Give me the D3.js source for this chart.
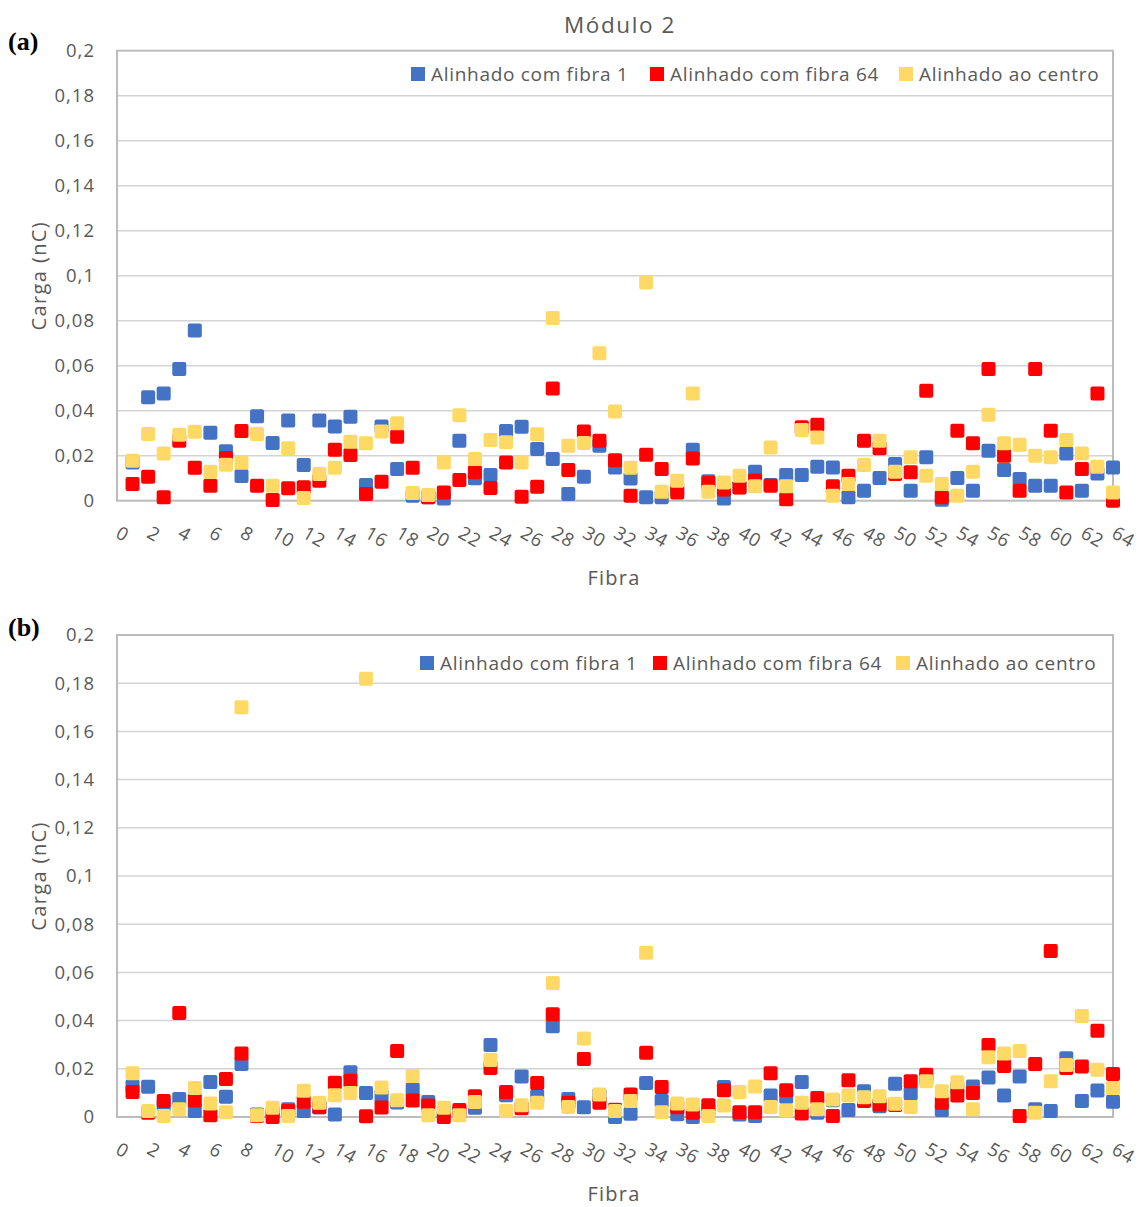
<!DOCTYPE html>
<html>
<head>
<meta charset="utf-8">
<script src="https://cdn.jsdelivr.net/npm/d3@7"></script>
<style>
  html, body { margin: 0; padding: 0; background: #ffffff; }
  svg { display: block; }
  text { font-family: "Open Sans", "Noto Sans", sans-serif; }
</style>
</head>
<body>
<svg id="chart" width="1140" height="1207"></svg>
<script>
// ---------------- DATA ----------------
const fibras = [1,2,3,4,5,6,7,8,9,10,11,12,13,14,15,16,17,18,19,20,21,22,23,24,25,26,27,28,29,30,31,32,
                33,34,35,36,37,38,39,40,41,42,43,44,45,46,47,48,49,50,51,52,53,54,55,56,57,58,59,60,61,62,63,64];

const seriesNames = ["Alinhado com fibra 1", "Alinhado com fibra 64", "Alinhado ao centro"];
const seriesColors = ["#4472C4", "#FF0000", "#FFD966"];

const xTickValues = [0,2,4,6,8,10,12,14,16,18,20,22,24,26,28,30,32,34,36,38,40,42,44,46,48,50,52,54,56,58,60,62,64];
const yTickValues = [0,0.02,0.04,0.06,0.08,0.1,0.12,0.14,0.16,0.18,0.2];

const titleText = "Módulo 2";
const xTitle = "Fibra";
const yTitle = "Carga (nC)";
const panelLabels = ["(a)", "(b)"];

// Panel (a)
const aFibra1 = [0.017,0.046,0.0477,0.0585,0.0756,0.0302,0.022,0.011,0.0375,0.0256,0.0357,0.0159,0.0357,0.033,0.0373,0.007,
                 0.033,0.0141,0.0022,0.0015,0.001,0.0267,0.010,0.0114,0.031,0.0329,0.023,0.0185,0.003,0.0107,0.0244,0.0148,
                 0.0099,0.0015,0.0015,0.005,0.0227,0.0087,0.001,0.006,0.0129,0.007,0.0114,0.0114,0.0151,0.0148,0.0015,0.0044,
                 0.0101,0.0163,0.0044,0.0193,0.0004,0.0101,0.0044,0.0222,0.0136,0.0096,0.0067,0.0067,0.021,0.0044,0.0121,0.0148];
const aFibra64 = [0.0074,0.0107,0.0015,0.0267,0.0147,0.0067,0.019,0.031,0.0067,0.0003,0.0055,0.006,0.0089,0.0227,0.0203,0.003,
                  0.0084,0.0284,0.0147,0.0015,0.0037,0.0092,0.0126,0.0056,0.017,0.0018,0.0062,0.0499,0.0136,0.0308,0.0267,0.018,
                  0.0022,0.0204,0.0141,0.0037,0.0188,0.0079,0.005,0.0059,0.009,0.0067,0.0007,0.0326,0.0338,0.0064,0.0111,0.0267,
                  0.0233,0.0119,0.0126,0.0489,0.0015,0.0311,0.0255,0.0585,0.020,0.0044,0.0585,0.0311,0.0037,0.0141,0.0477,0.0];
const aCentro = [0.0178,0.0296,0.021,0.0293,0.0307,0.0129,0.016,0.0169,0.0296,0.0067,0.0233,0.0012,0.0119,0.0147,0.0262,0.0255,
                 0.0308,0.0344,0.0034,0.0025,0.017,0.038,0.0185,0.027,0.026,0.017,0.0295,0.0812,0.0244,0.0256,0.0655,0.0397,
                 0.0147,0.097,0.004,0.0089,0.0477,0.004,0.0081,0.0111,0.0064,0.0237,0.0064,0.0314,0.0281,0.0022,0.0074,0.0159,
                 0.0267,0.0129,0.0193,0.0111,0.0074,0.0022,0.0129,0.0382,0.0255,0.0249,0.020,0.0193,0.027,0.021,0.0151,0.0037];

// Panel (b)
const bFibra1 = [0.0127,0.0126,0.005,0.0075,0.0025,0.0145,0.0084,0.022,0.001,0.0018,0.0032,0.0025,0.004,0.001,0.0186,0.01,
                 0.0086,0.006,0.0114,0.0062,0.002,0.002,0.0038,0.0299,0.009,0.0168,0.0086,0.0377,0.0075,0.004,0.009,0.0,
                 0.0014,0.0141,0.0066,0.0011,0.0,0.003,0.0124,0.001,0.0004,0.0089,0.0084,0.0145,0.0018,0.007,0.0029,0.0107,
                 0.0045,0.0138,0.0097,0.016,0.0029,0.012,0.0127,0.0164,0.0089,0.0168,0.0032,0.0025,0.0244,0.0066,0.011,0.0063];
const bFibra64 = [0.0104,0.0018,0.0066,0.0432,0.0068,0.0007,0.0158,0.0264,0.0004,0.0,0.0025,0.0063,0.004,0.0142,0.015,0.0003,
                  0.0039,0.0274,0.0068,0.0048,0.0,0.0029,0.0086,0.0203,0.0104,0.0036,0.0141,0.0426,0.0059,0.0241,0.0059,0.003,
                  0.0093,0.0267,0.0125,0.004,0.0018,0.0049,0.0111,0.002,0.002,0.0182,0.0111,0.0015,0.0079,0.0004,0.0152,0.0066,
                  0.0052,0.005,0.0148,0.0175,0.0059,0.0089,0.01,0.0299,0.0212,0.0004,0.022,0.0689,0.0203,0.021,0.0358,0.0178];
const bCentro = [0.0182,0.0025,0.0004,0.0032,0.012,0.0056,0.002,0.170,0.0007,0.0038,0.0004,0.0109,0.0059,0.009,0.01,0.1818,
                 0.0122,0.0069,0.017,0.0007,0.0038,0.0007,0.0062,0.0237,0.0025,0.0049,0.0059,0.0556,0.0041,0.0326,0.0093,0.0025,
                 0.0066,0.0682,0.002,0.0056,0.0052,0.0004,0.0048,0.0104,0.0127,0.0041,0.0027,0.0059,0.0032,0.0073,0.0089,0.0082,
                 0.0086,0.0055,0.0041,0.0148,0.0107,0.0144,0.0032,0.0248,0.0264,0.0274,0.0018,0.0148,0.0216,0.0419,0.0196,0.012];

// ---------------- LAYOUT ----------------
const svg = d3.select("#chart");
const textColor = "#595959";
const fmt = v => String(+v.toFixed(2)).replace(".", ",");

const panels = [
  { label: panelLabels[0], series: [aFibra1, aFibra64, aCentro], top: 50.7, bottom: 500.7,
    legendX: [411, 650, 899], legendY: 74, labelY: 50 },
  { label: panelLabels[1], series: [bFibra1, bFibra64, bCentro], top: 635, bottom: 1117,
    legendX: [420, 653, 896], legendY: 663, labelY: 636 }
];
const left = 117, right = 1113;

// Title
svg.append("text")
  .attr("x", 620).attr("y", 33)
  .attr("text-anchor", "middle")
  .attr("fill", textColor)
  .style("font-size", "22.5px")
  .style("letter-spacing", "1.6px")
  .text(titleText);

panels.forEach(p => {
  const x = d3.scaleLinear().domain([0, 64]).range([left, right]);
  const y = d3.scaleLinear().domain([0, 0.2]).range([p.bottom, p.top]);
  const g = svg.append("g");

  // gridlines
  g.append("g").selectAll("line")
    .data(yTickValues.slice(1, -1))
    .join("line")
    .attr("x1", left).attr("x2", right)
    .attr("y1", d => y(d)).attr("y2", d => y(d))
    .attr("stroke", "#d4d4d4").attr("stroke-width", 1.5);

  // plot border
  g.append("rect")
    .attr("x", left).attr("y", p.top)
    .attr("width", right - left).attr("height", p.bottom - p.top)
    .attr("fill", "none").attr("stroke", "#bcbcbc").attr("stroke-width", 2);

  // y axis
  const yAxis = g.append("g")
    .attr("transform", `translate(${left - 22},0)`)
    .call(d3.axisLeft(y).tickValues(yTickValues).tickFormat(fmt).tickSize(0).tickPadding(0));
  yAxis.select(".domain").remove();
  yAxis.selectAll("text")
    .attr("fill", textColor)
    .style("font-size", "18.5px")
    .style("letter-spacing", "1px")
    .style("font-family", "'Open Sans', sans-serif");

  // x axis
  const xAxis = g.append("g")
    .attr("transform", `translate(0,${p.bottom})`)
    .call(d3.axisBottom(x).tickValues(xTickValues).tickSize(0).tickFormat(d => String(d)));
  xAxis.select(".domain").remove();
  xAxis.selectAll("text")
    .attr("fill", textColor)
    .attr("text-anchor", "start")
    .attr("dy", null)
    .attr("y", null)
    .attr("transform", "translate(-3,36) rotate(30)")
    .style("font-size", "18.5px")
    .style("letter-spacing", "0.8px")
    .style("font-family", "'Open Sans', sans-serif");

  // axis titles
  g.append("text")
    .attr("x", 614).attr("y", p.bottom + 84)
    .attr("text-anchor", "middle")
    .attr("fill", textColor)
    .style("font-size", "20px")
    .style("letter-spacing", "1.2px")
    .text(xTitle);

  g.append("text")
    .attr("transform", `translate(46,${(p.top + p.bottom) / 2}) rotate(-90)`)
    .attr("text-anchor", "middle")
    .attr("fill", textColor)
    .style("font-size", "20px")
    .style("letter-spacing", "1.4px")
    .text(yTitle);

  // panel label
  g.append("text")
    .attr("x", 8).attr("y", p.labelY)
    .attr("fill", "#000")
    .style("font-family", "'Liberation Serif', 'Times New Roman', serif")
    .style("font-weight", "bold")
    .style("font-size", "26px")
    .text(p.label);

  // markers: blue, then red, then yellow on top
  const ms = 14;
  p.series.forEach((vals, si) => {
    const pts = fibras.map((f, i) => ({ f, v: vals[i] })).filter(d => d.v !== null);
    g.append("g").selectAll("rect")
      .data(pts)
      .join("rect")
      .attr("x", d => x(d.f) - ms / 2)
      .attr("y", d => y(d.v) - ms / 2)
      .attr("width", ms).attr("height", ms)
      .attr("rx", 2).attr("ry", 2)
      .attr("fill", seriesColors[si]);
  });

  // legend
  const lg = g.append("g");
  seriesNames.forEach((name, i) => {
    lg.append("rect")
      .attr("x", p.legendX[i]).attr("y", p.legendY - 7)
      .attr("width", 14).attr("height", 14)
      .attr("fill", seriesColors[i]);
    lg.append("text")
      .attr("x", p.legendX[i] + 20).attr("y", p.legendY + 7)
      .attr("fill", textColor)
      .style("font-size", "19px")
      .style("letter-spacing", "0.7px")
      .text(name);
  });
});
</script>
</body>
</html>
